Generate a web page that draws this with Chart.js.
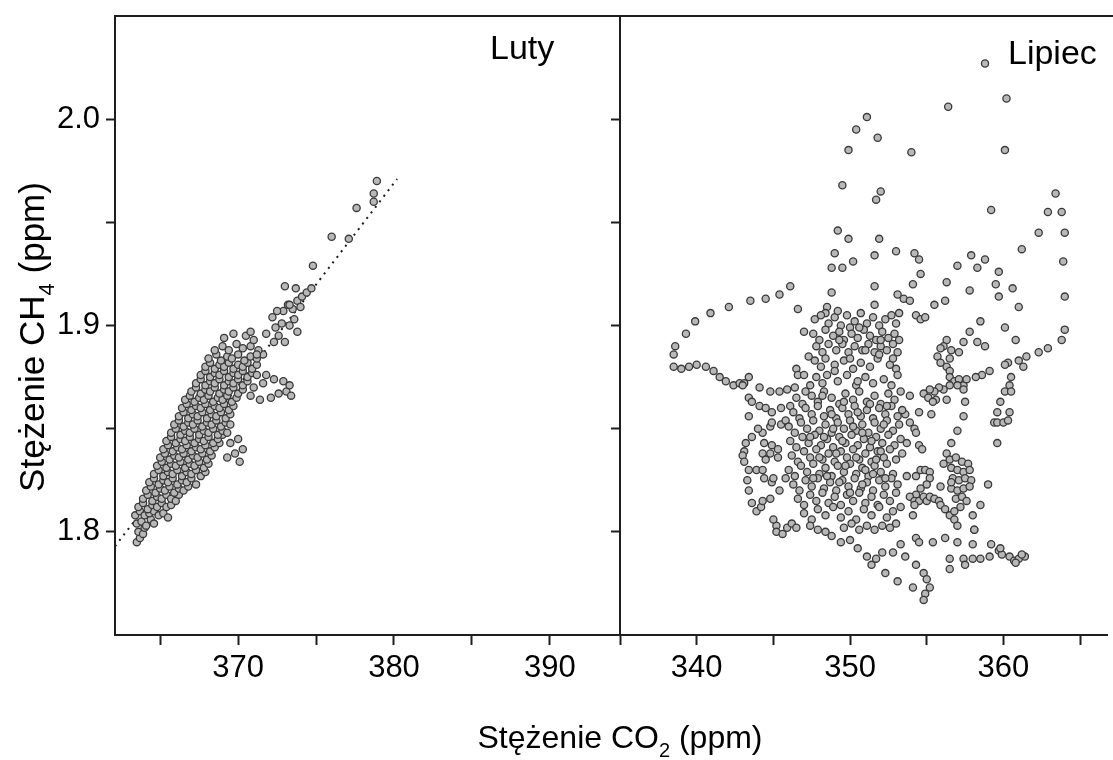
<!DOCTYPE html>
<html>
<head>
<meta charset="utf-8">
<script src="https://cdn.jsdelivr.net/npm/chart.js@4.4.0/dist/chart.umd.min.js"></script>
<style>
  html, body { margin: 0; padding: 0; background: #fff; overflow: hidden; }
  #wrap { position: relative; width: 1113px; height: 760px; }
  #lutyChart { position: absolute; left: 0; top: 0; }
  #lipiecChart { position: absolute; left: 600px; top: 0; }
</style>
</head>
<body>
<div id="wrap">
  <canvas id="lutyChart" width="1113" height="760"></canvas>
  <canvas id="lipiecChart" width="513" height="760"></canvas>
</div>
<script>
// --- data: [CO2 ppm, CH4 ppm] ---
const lutyPoints = [
  [363.5,1.795],[363.7,1.797],[363.6,1.800],[363.9,1.799],[364.0,1.802],
  [363.5,1.804],[363.8,1.805],[364.1,1.803],[364.4,1.806],[364.6,1.804],
  [363.4,1.808],[363.7,1.810],[364.0,1.808],[364.3,1.809],[364.6,1.810],[364.9,1.808],[365.2,1.809],[365.5,1.807],
  [363.6,1.812],[363.9,1.814],[364.2,1.811],[364.5,1.813],[364.8,1.812],[365.1,1.814],[365.4,1.812],[365.7,1.813],
  [363.9,1.816],[364.2,1.818],[364.5,1.815],[364.8,1.817],[365.1,1.816],[365.4,1.818],[365.7,1.816],[366.0,1.815],[366.2,1.818],
  [364.1,1.820],[364.4,1.822],[364.7,1.819],[365.0,1.821],[365.3,1.820],[365.6,1.822],[365.9,1.819],[366.2,1.821],[366.5,1.820],[366.8,1.822],
  [364.3,1.824],[364.6,1.826],[364.9,1.823],[365.2,1.825],[365.5,1.824],[365.8,1.826],[366.1,1.823],[366.4,1.825],[366.7,1.824],[367.0,1.826],[367.3,1.823],
  [364.6,1.828],[364.9,1.830],[365.2,1.827],[365.5,1.829],[365.8,1.828],[366.1,1.830],[366.4,1.827],[366.7,1.829],[367.0,1.828],[367.3,1.830],[367.6,1.827],[367.9,1.829],
  [364.8,1.832],[365.1,1.834],[365.4,1.831],[365.7,1.833],[366.0,1.832],[366.3,1.834],[366.6,1.831],[366.9,1.833],[367.2,1.832],[367.5,1.834],[367.8,1.831],[368.1,1.833],
  [365.0,1.836],[365.3,1.838],[365.6,1.835],[365.9,1.837],[366.2,1.836],[366.5,1.838],[366.8,1.835],[367.1,1.837],[367.4,1.836],[367.7,1.838],[368.0,1.835],[368.3,1.837],
  [369.3,1.836],[369.8,1.838],[370.3,1.840],[370.1,1.834],
  [365.2,1.840],[365.5,1.842],[365.8,1.839],[366.1,1.841],[366.4,1.840],[366.7,1.842],[367.0,1.839],[367.3,1.841],[367.6,1.840],[367.9,1.842],[368.2,1.839],[368.5,1.841],[368.8,1.843],
  [369.5,1.843],[370.0,1.845],
  [365.4,1.844],[365.7,1.846],[366.0,1.843],[366.3,1.845],[366.6,1.844],[366.9,1.846],[367.2,1.843],[367.5,1.845],[367.8,1.844],[368.1,1.846],[368.4,1.843],[368.7,1.845],[369.0,1.847],
  [365.7,1.848],[366.0,1.850],[366.3,1.847],[366.6,1.849],[366.9,1.848],[367.2,1.850],[367.5,1.847],[367.8,1.849],[368.1,1.848],[368.4,1.850],[368.7,1.847],[369.0,1.849],[369.3,1.848],
  [365.9,1.852],[366.2,1.854],[366.5,1.851],[366.8,1.853],[367.1,1.852],[367.4,1.854],[367.7,1.851],[368.0,1.853],[368.3,1.852],[368.6,1.854],[368.9,1.851],[369.2,1.853],[369.5,1.852],
  [366.2,1.856],[366.5,1.858],[366.8,1.855],[367.1,1.857],[367.4,1.856],[367.7,1.858],[368.0,1.855],[368.3,1.857],[368.6,1.856],[368.9,1.858],[369.2,1.855],[369.5,1.857],
  [366.4,1.860],[366.7,1.862],[367.0,1.859],[367.3,1.861],[367.6,1.860],[367.9,1.862],[368.2,1.859],[368.5,1.861],[368.8,1.860],[369.1,1.862],[369.4,1.859],[369.7,1.861],
  [366.6,1.864],[366.9,1.866],[367.2,1.863],[367.5,1.865],[367.8,1.864],[368.1,1.866],[368.4,1.863],[368.7,1.865],[369.0,1.864],[369.3,1.866],[369.6,1.863],[369.9,1.865],
  [370.8,1.866],[371.4,1.864],[372.1,1.865],[372.6,1.867],[373.1,1.868],[373.4,1.866],
  [367.0,1.868],[367.3,1.870],[367.6,1.867],[367.9,1.869],[368.2,1.868],[368.5,1.870],[368.8,1.867],[369.1,1.869],[369.4,1.868],[369.7,1.870],[370.0,1.867],[370.3,1.869],
  [371.0,1.870],[371.6,1.872],[372.3,1.874],[372.9,1.873],[373.3,1.871],
  [367.3,1.872],[367.6,1.874],[367.9,1.871],[368.2,1.873],[368.5,1.872],[368.8,1.874],[369.1,1.871],[369.4,1.873],[369.7,1.872],[370.0,1.874],[370.3,1.871],[370.6,1.873],
  [367.6,1.876],[367.9,1.878],[368.2,1.875],[368.5,1.877],[368.8,1.876],[369.1,1.878],[369.4,1.875],[369.7,1.877],[370.0,1.876],[370.3,1.878],[370.6,1.875],[370.9,1.877],[371.2,1.876],
  [367.9,1.880],[368.2,1.882],[368.5,1.879],[368.8,1.881],[369.1,1.880],[369.4,1.882],[369.7,1.879],[370.0,1.881],[370.3,1.880],[370.6,1.882],[370.9,1.879],[371.2,1.881],
  [368.1,1.884],[368.6,1.886],[368.9,1.883],[369.3,1.885],[369.6,1.884],[370.0,1.886],[370.4,1.883],[370.8,1.885],[371.2,1.884],[371.6,1.886],
  [368.5,1.888],[369.0,1.890],[369.4,1.888],[369.9,1.891],[370.3,1.889],[370.8,1.890],[371.3,1.888],
  [369.1,1.894],[369.7,1.896],[370.5,1.895],[371.0,1.893],[370.8,1.897],[371.8,1.896],[371.2,1.886],[371.8,1.876],
  [372.3,1.892],[372.6,1.895],[373.0,1.892],[372.4,1.899],[372.8,1.901],[373.3,1.900],[373.6,1.903],[373.8,1.897],
  [372.2,1.904],[372.9,1.907],[373.2,1.910],[373.5,1.908],[373.8,1.912],[374.0,1.909],
  [374.1,1.914],[374.4,1.916],[374.7,1.918],[372.5,1.907],[373.0,1.919],[373.7,1.918],[373.3,1.910],
  [374.8,1.929],[376.0,1.943],[377.1,1.942],[377.6,1.957],[378.7,1.960],[378.7,1.964],[378.9,1.970]
];
const lutyFit = [[362.1,1.793],[380.2,1.971]];

const lipiecPoints = [
  // upper scattered points
  [358.8,2.027],[360.2,2.010],[356.4,2.006],[351.1,2.001],[350.4,1.995],[351.8,1.991],[349.9,1.985],[354.0,1.984],[360.1,1.985],
  [349.5,1.968],[352.0,1.965],[351.7,1.961],[359.2,1.956],[363.4,1.964],[362.9,1.955],[363.8,1.955],[362.3,1.945],[364.0,1.945],
  [363.9,1.931],[364.0,1.914],[364.0,1.898],
  [349.2,1.946],[349.9,1.942],[351.9,1.942],[361.2,1.937],[349.0,1.935],[351.6,1.934],[353.0,1.936],[354.2,1.935],[354.5,1.932],
  [350.2,1.931],[357.9,1.934],[358.8,1.932],[357.0,1.929],[358.3,1.928],[359.7,1.926],[348.8,1.928],[349.5,1.928],[354.6,1.925],
  [354.1,1.920],[356.3,1.921],[359.5,1.920],[351.6,1.919],[348.8,1.916],[357.8,1.917],[360.6,1.918],[359.7,1.914],[353.1,1.915],
  [353.5,1.913],[353.9,1.912],[356.2,1.912],[355.5,1.910],[361.0,1.909],[351.6,1.910],[353.2,1.906],[354.3,1.905],[354.6,1.903],
  [354.9,1.904],[358.5,1.902],[348.5,1.909],[348.4,1.906],
  // loop on the left
  [346.1,1.919],[345.4,1.915],[344.5,1.913],[343.5,1.912],[342.1,1.909],[340.9,1.906],[339.9,1.902],[339.3,1.896],[338.6,1.890],
  [338.5,1.886],[338.5,1.880],[339.0,1.879],[339.5,1.880],[340.0,1.881],[340.6,1.880],[341.1,1.878],[341.5,1.875],[341.9,1.873],
  [342.4,1.871],[342.8,1.872],[343.1,1.872],[343.4,1.875],[343.0,1.871],[343.4,1.865],[343.6,1.863],[344.1,1.861],[344.5,1.860],
  [344.9,1.858],[344.1,1.870],[344.8,1.868],[345.4,1.868],[345.9,1.869],[346.4,1.870],[346.6,1.908],[347.0,1.897],[347.3,1.885],
  [346.5,1.879],[346.6,1.876],[347.0,1.876],[347.4,1.871],
  // left column
  [343.4,1.856],[343.6,1.846],[343.2,1.843],[343.1,1.839],[343.0,1.837],[343.1,1.834],[343.4,1.830],[343.9,1.830],[344.3,1.830],
  [343.3,1.825],[343.4,1.820],[344.4,1.826],[344.9,1.824],[343.6,1.814],[343.9,1.810],[344.2,1.812],[344.8,1.816],[345.2,1.803],
  [345.2,1.800],[344.8,1.851],[344.3,1.848],[344.0,1.850],[344.9,1.853],[345.5,1.852],[345.8,1.854],[345.5,1.860],[346.1,1.861],
  [344.4,1.843],[344.9,1.842],[345.3,1.840],[344.3,1.838],[344.8,1.838],[345.3,1.836],[345.4,1.820],[345.0,1.826],[345.8,1.826],
  [344.5,1.835],[344.3,1.815],
  // lower edge and tail
  [345.0,1.806],[345.6,1.799],[345.9,1.802],[346.2,1.804],[346.5,1.802],[348.4,1.800],[348.8,1.798],[349.4,1.795],[350.0,1.796],
  [350.5,1.792],[351.1,1.788],[351.4,1.784],[351.7,1.787],[352.1,1.790],[352.3,1.780],[352.8,1.790],[353.1,1.776],[353.3,1.794],
  [353.6,1.788],[354.1,1.773],[354.3,1.797],[354.3,1.784],[354.5,1.795],[354.8,1.780],[355.0,1.777],[355.2,1.773],[354.9,1.770],
  [354.8,1.767],[355.4,1.795],[356.2,1.797],[356.5,1.787],[356.5,1.782],[357.0,1.795],[357.4,1.787],[357.5,1.784],[358.0,1.787],
  [358.0,1.794],[358.1,1.801],[358.5,1.787],[359.1,1.788],[359.2,1.794],[359.7,1.791],[359.9,1.789],[360.4,1.788],[360.7,1.786],
  [361.0,1.787],[361.4,1.788],[360.8,1.785],[361.2,1.789],[359.8,1.792],
  // middle right
  [357.8,1.897],[357.4,1.892],[358.3,1.892],[358.8,1.890],[356.3,1.893],[356.1,1.890],[355.9,1.889],[356.6,1.888],[357.1,1.887],
  [355.7,1.885],[355.9,1.882],[356.3,1.880],[356.5,1.884],[356.5,1.878],[356.5,1.875],[356.8,1.873],[357.1,1.874],[357.4,1.871],
  [357.6,1.874],[357.4,1.869],[357.0,1.871],[356.5,1.871],[356.1,1.869],[355.8,1.870],[355.5,1.868],[355.2,1.869],[354.8,1.867],
  [355.1,1.865],[353.9,1.866],[356.3,1.864],[357.5,1.863],[357.4,1.856],[357.0,1.849],[356.6,1.843],[356.3,1.838],[356.1,1.833],
  [356.5,1.835],[356.9,1.836],[357.3,1.834],[357.7,1.833],[356.6,1.831],[357.0,1.830],[357.4,1.829],[357.8,1.830],[356.7,1.826],
  [357.1,1.825],[357.5,1.826],[357.9,1.825],[356.6,1.821],[357.0,1.820],[357.4,1.821],[357.8,1.822],[356.9,1.816],[357.3,1.817],
  [357.6,1.815],[357.2,1.812],[359.0,1.823],[358.5,1.813],[358.0,1.808],[358.1,1.801],
  // right side
  [360.1,1.899],[360.8,1.893],[363.8,1.893],[362.9,1.889],[362.3,1.887],[361.5,1.885],[361.0,1.883],[361.3,1.880],[360.3,1.882],
  [360.1,1.881],[359.1,1.878],[358.6,1.876],[358.2,1.875],[360.5,1.875],[360.4,1.871],[360.1,1.868],[360.5,1.868],[359.8,1.863],
  [360.4,1.858],[359.6,1.858],[359.4,1.853],[359.6,1.853],[360.0,1.853],[360.3,1.854],[359.6,1.843],
  // right protrusion of the core
  [354.5,1.858],[355.3,1.857],[353.6,1.857],[353.9,1.853],[354.2,1.850],[354.3,1.848],[354.5,1.842],[354.7,1.840],[353.7,1.827],
  [354.3,1.827],[354.6,1.830],[354.9,1.830],[355.2,1.829],[355.2,1.826],[355.0,1.823],[354.6,1.821],[354.3,1.818],[353.9,1.817],
  [354.2,1.815],[354.5,1.815],[354.8,1.817],[355.0,1.815],[355.2,1.817],[355.5,1.816],[355.8,1.815],[355.9,1.813],[356.2,1.811],
  [356.5,1.808],[356.8,1.810],[356.8,1.806],[357.0,1.803],[354.2,1.813],[353.3,1.812],[354.1,1.808],[355.9,1.822],[355.6,1.864],
  [355.4,1.863],[356.6,1.824],
  // dense core
  [347.7,1.903],[348.1,1.905],[348.6,1.901],[349.0,1.904],[349.4,1.900],[349.8,1.905],[350.3,1.902],[350.7,1.906],[351.1,1.901],
  [351.5,1.904],[351.9,1.900],[352.3,1.903],[352.7,1.905],[353.0,1.901],[349.2,1.907],[350.0,1.899],
  [347.6,1.896],[348.0,1.893],[348.4,1.898],[348.9,1.895],[349.3,1.897],[349.6,1.893],[350.1,1.896],[350.5,1.894],[350.9,1.898],
  [351.3,1.895],[351.7,1.893],[352.1,1.897],[352.5,1.894],[352.9,1.896],[353.2,1.893],
  [347.8,1.890],[348.2,1.887],[348.6,1.891],[349.1,1.888],[349.5,1.891],[349.9,1.887],[350.3,1.890],[350.8,1.888],[351.2,1.891],
  [351.6,1.887],[352.0,1.890],[352.4,1.888],[352.8,1.891],[353.1,1.887],
  [347.7,1.883],[348.1,1.880],[348.4,1.884],[349.0,1.881],[349.6,1.883],[350.2,1.879],[350.7,1.882],[351.3,1.880],[351.8,1.884],
  [352.6,1.881],[353.0,1.879],[352.8,1.884],
  [347.8,1.875],[348.2,1.872],[348.5,1.876],[349.2,1.873],[349.8,1.876],[350.4,1.871],[351.0,1.875],[351.5,1.872],[352.2,1.874],
  [352.7,1.871],[353.1,1.876],
  [347.5,1.866],[347.9,1.863],[348.3,1.868],[348.8,1.865],[349.3,1.862],[349.7,1.867],[350.2,1.864],[350.6,1.868],[351.1,1.863],
  [351.6,1.866],[352.0,1.862],[352.5,1.867],[352.9,1.864],[353.3,1.868],[346.5,1.865],[346.9,1.862],[347.1,1.868],
  [346.3,1.858],[346.7,1.855],[347.1,1.860],[347.5,1.857],[347.9,1.861],[348.3,1.856],[348.7,1.859],[349.1,1.855],[349.5,1.860],
  [349.9,1.857],[350.3,1.861],[350.7,1.856],[351.1,1.859],[351.5,1.855],[351.9,1.860],[352.3,1.857],[352.7,1.861],[353.1,1.856],[353.4,1.859],
  [346.0,1.851],[346.4,1.848],[346.8,1.853],[347.2,1.850],[347.6,1.854],[348.0,1.849],[348.4,1.852],[348.8,1.848],[349.2,1.853],
  [349.6,1.850],[350.0,1.854],[350.4,1.849],[350.8,1.852],[351.2,1.848],[351.6,1.853],[352.0,1.850],[352.4,1.854],[352.8,1.849],[353.2,1.852],
  [346.1,1.844],[346.5,1.841],[346.9,1.846],[347.3,1.843],[347.7,1.847],[348.1,1.842],[348.5,1.845],[348.9,1.841],[349.3,1.846],
  [349.7,1.843],[350.1,1.847],[350.5,1.842],[350.9,1.845],[351.3,1.841],[351.7,1.846],[352.1,1.843],[352.5,1.847],[352.9,1.842],
  [353.3,1.845],[353.7,1.843],
  [346.2,1.837],[346.6,1.834],[347.0,1.839],[347.4,1.836],[347.8,1.840],[348.2,1.835],[348.6,1.838],[349.0,1.834],[349.4,1.839],
  [349.8,1.836],[350.2,1.840],[350.6,1.835],[351.0,1.838],[351.4,1.834],[351.8,1.839],[352.2,1.836],[352.6,1.840],[353.0,1.835],[353.4,1.838],
  [346.0,1.830],[346.4,1.827],[346.8,1.832],[347.2,1.829],[347.6,1.833],[348.0,1.828],[348.4,1.831],[348.8,1.827],[349.2,1.832],
  [349.6,1.829],[350.0,1.833],[350.4,1.828],[350.8,1.831],[351.2,1.827],[351.6,1.832],[352.0,1.829],[352.4,1.833],[352.8,1.828],
  [346.3,1.823],[346.7,1.820],[347.1,1.825],[347.5,1.822],[347.9,1.826],[348.3,1.821],[348.7,1.824],[349.1,1.820],[349.5,1.825],
  [349.9,1.822],[350.3,1.826],[350.7,1.821],[351.1,1.824],[351.5,1.820],[351.9,1.825],[352.3,1.822],[352.7,1.826],[353.1,1.823],
  [346.6,1.816],[347.0,1.813],[347.4,1.818],[347.8,1.815],[348.2,1.819],[348.6,1.814],[349.0,1.817],[349.4,1.813],[349.8,1.818],
  [350.2,1.815],[350.6,1.819],[351.0,1.814],[351.4,1.817],[351.8,1.813],[352.2,1.818],[352.6,1.815],[353.0,1.819],
  [347.0,1.809],[347.5,1.806],[347.9,1.811],[348.4,1.808],[348.9,1.812],[349.4,1.807],[349.9,1.810],[350.4,1.806],[350.9,1.811],
  [351.4,1.808],[351.9,1.812],[352.4,1.807],[352.8,1.810],
  [347.4,1.803],[347.9,1.801],[349.6,1.802],[350.1,1.804],[350.6,1.801],[351.1,1.803],[351.6,1.801],[352.1,1.803],[352.6,1.802],[353.0,1.804],
  // extra points in the darkest part of the core
  [348.3,1.846],[348.9,1.850],[349.5,1.844],[350.2,1.851],[350.8,1.848],[351.4,1.844],[352.0,1.839],[349.1,1.838],[349.7,1.832],
  [350.4,1.836],[351.0,1.830],[351.7,1.835],[348.5,1.827],[349.3,1.824],[350.0,1.819],[350.8,1.823],[351.5,1.828],[352.3,1.826],
  [348.0,1.836],[347.6,1.826],[348.8,1.857],[349.6,1.863],[350.5,1.858],[351.3,1.862],[352.2,1.852],[347.4,1.846],[348.2,1.866],
  [349.0,1.878],[350.0,1.884],[351.0,1.888],[352.0,1.893],[349.3,1.893],[350.6,1.899],[351.9,1.886],[350.5,1.873],[352.4,1.861]
];

// axis ranges and labelled ticks
const yRange = [1.75, 2.05];
const yTickLabels = [1.8, 1.9, 2.0];
const lutyRange = [362.1, 394.5];
const lutyTickLabels = [370, 380, 390];
const lipiecRange = [335, 366.8];
const lipiecTickLabels = [340, 350, 360];

const FONT = "'Liberation Sans', Arial, sans-serif";
const INK = '#1e1e1e';

function xAxis(range, labels) {
    return {
        type: 'linear',
        position: 'bottom',
        min: range[0],
        max: range[1],
        afterFit: function(scale) {
            scale.height = 125;
            scale.paddingLeft = 0;
            scale.paddingRight = 0;
        },
        border: { display: true, color: INK, width: 2 },
        grid: { drawOnChartArea: false, drawTicks: true, tickLength: 10, tickWidth: 2, tickColor: INK },
        ticks: {
            stepSize: 5,
            includeBounds: false,
            autoSkip: false,
            maxRotation: 0,
            padding: 5,
            color: '#000',
            font: { family: FONT, size: 31 },
            callback: function(value) {
                return labels.includes(value) ? String(value) : '';
            }
        }
    };
}

function yAxis(width, showLabels) {
    return {
        type: 'linear',
        min: yRange[0],
        max: yRange[1],
        afterFit: function(scale) {
            scale.width = width;
            scale.paddingTop = 0;
            scale.paddingBottom = 0;
        },
        border: { display: true, color: INK, width: 2 },
        grid: {
            drawOnChartArea: false,
            tickLength: 9,
            tickWidth: 2,
            tickColor: function(c) {
                const v = c.tick ? c.tick.value : 0;
                return (v < yRange[0] + 1e-6 || v > yRange[1] - 1e-6) ? 'rgba(0,0,0,0)' : INK;
            }
        },
        ticks: {
            stepSize: 0.05,
            includeBounds: false,
            autoSkip: false,
            padding: 6,
            color: '#000',
            font: { family: FONT, size: 31 },
            callback: function(value) {
                if (!showLabels) return '';
                const hit = yTickLabels.find(t => Math.abs(t - value) < 1e-6);
                return hit !== undefined ? hit.toFixed(1) : '';
            }
        }
    };
}

function scatterSet(points) {
    return {
        type: 'scatter',
        data: points.map(p => ({ x: p[0], y: p[1] })),
        pointRadius: 3.6,
        pointBorderWidth: 1.3,
        pointBorderColor: '#3a3a3a',
        pointBackgroundColor: '#b8b8b8'
    };
}

// title with a subscript, centred on (cx, base)
function drawSubTitle(ctx, cx, base, angle, head, sub, tail, size) {
    ctx.save();
    ctx.translate(cx, base);
    ctx.rotate(angle);
    const big = size + 'px ' + FONT;
    const small = Math.round(size * 0.62) + 'px ' + FONT;
    ctx.font = big;
    const w1 = ctx.measureText(head).width;
    const w3 = ctx.measureText(tail).width;
    ctx.font = small;
    const w2 = ctx.measureText(sub).width;
    let x = -(w1 + w2 + w3) / 2;
    ctx.fillStyle = '#000';
    ctx.textAlign = 'left';
    ctx.textBaseline = 'alphabetic';
    ctx.font = big;  ctx.fillText(head, x, 0); x += w1;
    ctx.font = small; ctx.fillText(sub, x, size * 0.28); x += w2;
    ctx.font = big;  ctx.fillText(tail, x, 0);
    ctx.restore();
}

const lutyDecor = {
    id: 'lutyDecor',
    afterDraw: function(chart) {
        const ctx = chart.ctx, a = chart.chartArea;
        ctx.save();
        ctx.strokeStyle = INK;
        ctx.lineWidth = 2;
        ctx.beginPath();
        ctx.moveTo(a.left - 1, a.top);
        ctx.lineTo(chart.width, a.top);
        ctx.stroke();
        ctx.fillStyle = '#000';
        ctx.font = '34px ' + FONT;
        ctx.textAlign = 'left';
        ctx.textBaseline = 'alphabetic';
        ctx.fillText('Luty', a.right - 130, 59);
        ctx.restore();
        drawSubTitle(ctx, 44, 337, -Math.PI / 2, 'Stężenie CH', '4', ' (ppm)', 35);
        drawSubTitle(ctx, 620, 748, 0, 'Stężenie CO', '2', ' (ppm)', 32);
    }
};

const lipiecDecor = {
    id: 'lipiecDecor',
    afterDraw: function(chart) {
        const ctx = chart.ctx, a = chart.chartArea;
        ctx.save();
        ctx.fillStyle = '#000';
        ctx.font = '34px ' + FONT;
        ctx.textAlign = 'left';
        ctx.textBaseline = 'alphabetic';
        ctx.fillText('Lipiec', a.left + 388, 64);
        ctx.restore();
    }
};

const common = {
    responsive: false,
    animation: false,
    events: [],
    plugins: { legend: { display: false }, tooltip: { enabled: false } }
};

new Chart(document.getElementById('lutyChart').getContext('2d'), {
    type: 'scatter',
    data: {
        datasets: [
            scatterSet(lutyPoints),
            {
                type: 'line',
                data: lutyFit.map(p => ({ x: p[0], y: p[1] })),
                borderColor: '#1a1a1a',
                borderWidth: 2,
                borderDash: [2, 5],
                pointRadius: 0,
                fill: false
            }
        ]
    },
    options: Object.assign({}, common, {
        layout: { padding: { top: 16, right: 493, left: 0, bottom: 0 } },
        scales: { x: xAxis(lutyRange, lutyTickLabels), y: yAxis(115, true) }
    }),
    plugins: [lutyDecor]
});

new Chart(document.getElementById('lipiecChart').getContext('2d'), {
    type: 'scatter',
    data: { datasets: [scatterSet(lipiecPoints)] },
    options: Object.assign({}, common, {
        layout: { padding: { top: 16, right: 0, left: 0, bottom: 0 } },
        scales: { x: xAxis(lipiecRange, lipiecTickLabels), y: yAxis(20, false) }
    }),
    plugins: [lipiecDecor]
});
</script>
</body>
</html>
